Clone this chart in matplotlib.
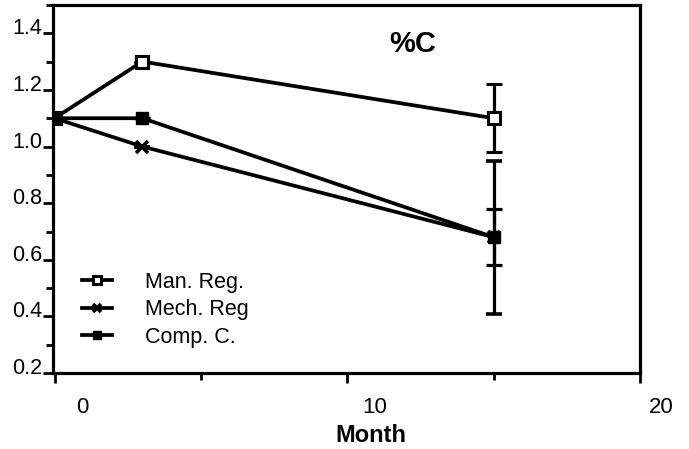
import matplotlib
matplotlib.use("Agg")
import matplotlib.pyplot as plt
import matplotlib.transforms as mtransforms
from matplotlib.ticker import MultipleLocator

plt.rcParams['font.family'] = ['Liberation Sans', 'DejaVu Sans']

# Carbon content (%C) over time for three treatments
months = [0, 3, 15]
man_reg = [1.1, 1.3, 1.1]
mech_reg = [1.1, 1.0, 0.68]
comp_c = [1.1, 1.1, 0.68]
man_err = [0, 0, 0.12]
mech_err = [0, 0, 0.27]
comp_err = [0, 0, 0.10]

x_ticks = [0, 10, 20]
y_ticks = [0.2, 0.4, 0.6, 0.8, 1.0, 1.2, 1.4]

fig = plt.figure(figsize=(6.89, 4.49), dpi=100)
ax = fig.add_axes([0.077, 0.169, 0.852, 0.82])

lw = 2.7
common = dict(color='black', lw=lw, elinewidth=2.3, capsize=5.5,
              capthick=2.3, zorder=3)
ax.errorbar(months, man_reg, yerr=man_err, marker='s', mfc='white',
            mec='black', mew=2.2, ms=8, label='Man. Reg.', **common)
ax.errorbar(months, mech_reg, yerr=mech_err, marker='x', mec='black',
            mew=2.6, ms=8, label='Mech. Reg', **common)
ax.errorbar(months, comp_c, yerr=comp_err, marker='s', mfc='black',
            mec='black', ms=8, label='Comp. C.', **common)

ax.set_xlim(-0.05, 20)
ax.set_ylim(0.2, 1.5)

ax.set_xticks(x_ticks)
ax.set_xticklabels([str(t) for t in x_ticks])
ax.xaxis.set_minor_locator(MultipleLocator(5))
ax.set_yticks(y_ticks)
ax.set_yticklabels([f"{t:.1f}" for t in y_ticks])
ax.yaxis.set_minor_locator(MultipleLocator(0.1))

for s in ax.spines.values():
    s.set_linewidth(2.3)

ax.tick_params(axis='both', which='major', direction='out', width=2.0,
               length=7, pad=1)
ax.tick_params(axis='both', which='minor', direction='out', width=2.0, length=5)
ax.tick_params(axis='y', labelsize=15.5)
ax.tick_params(axis='x', labelsize=16, pad=10)

# Shift x tick labels to sit right of their ticks, y labels up to the tick
x_offsets = [28, 27, 21]
for lab, dx in zip(ax.get_xticklabels(), x_offsets):
    lab.set_transform(lab.get_transform() +
                      mtransforms.ScaledTranslation(dx / 100, 0, fig.dpi_scale_trans))
for lab in ax.get_yticklabels():
    lab.set_transform(lab.get_transform() +
                      mtransforms.ScaledTranslation(0, 7 / 100, fig.dpi_scale_trans))

ax.set_xlabel('Month', fontsize=17, fontweight='bold')
ax.xaxis.set_label_coords(0.542, -0.138)

ax.text(0.612, 0.894, '%C', transform=ax.transAxes, fontsize=21,
        fontweight='bold', ha='center', va='center')

handles, labels = ax.get_legend_handles_labels()
handles = [h[0] if isinstance(h, tuple) else h for h in handles]
ax.legend(handles, labels, loc='upper left', bbox_to_anchor=(0.035, 0.298),
          frameon=False, fontsize=15.5, handlelength=1.4, handletextpad=1.5,
          labelspacing=0.3, borderaxespad=0, markerscale=0.8)

fig.savefig('out.png', dpi=100)
